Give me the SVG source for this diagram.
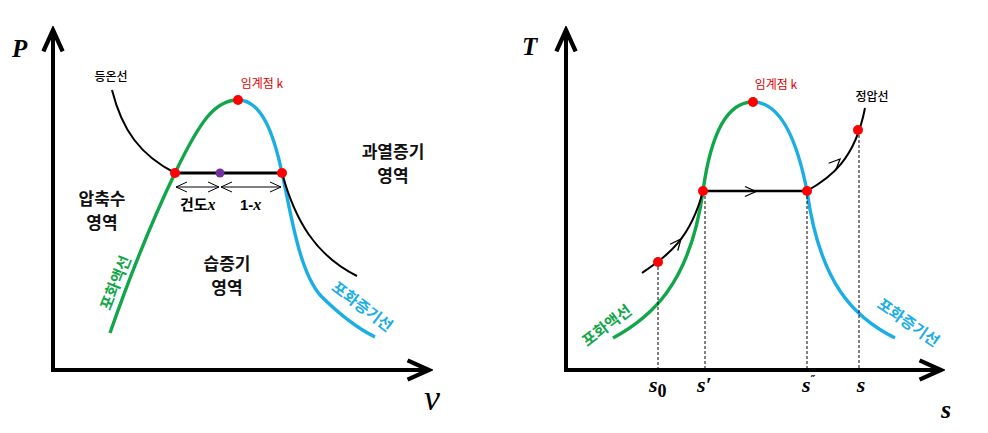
<svg xmlns="http://www.w3.org/2000/svg" width="988" height="433" viewBox="0 0 988 433">
<defs>
<style>
.axis{fill:none;stroke:#000;stroke-width:4;stroke-linejoin:miter}
.sat-liq{fill:none;stroke:#12a64b;stroke-width:3.4;stroke-linecap:butt}
.sat-vap{fill:none;stroke:#1aaee5;stroke-width:3.4}
.iso{fill:none;stroke:#000;stroke-width:2}
.thin{fill:none;stroke:#000;stroke-width:1}
.dash{fill:none;stroke:#000;stroke-width:1;stroke-dasharray:3 2}
.chev{fill:none;stroke:#000;stroke-width:1.3}
.dot{fill:#f00}
.kr{font-family:"Noto Sans CJK KR","Noto Sans",sans-serif}
.reg{font-size:17px;font-weight:700;text-anchor:middle;fill:#111}
.small{font-size:12px;text-anchor:middle}
.red{fill:#e00000}
.g{fill:#12a64b;font-size:15.5px;font-weight:700;text-anchor:middle}
.b{fill:#1aaee5;font-size:15.5px;font-weight:700;text-anchor:middle}
.math{font-family:"Liberation Serif","DejaVu Serif",serif;font-style:italic;font-weight:700}
</style>
<marker id="ah" markerUnits="userSpaceOnUse" markerWidth="30" markerHeight="30" viewBox="-24 -12 28 24" refX="0" refY="0" orient="auto-start-reverse">
<path d="M-20,-9 L0,0 L-20,9" fill="none" stroke="#000" stroke-width="4"/>
</marker>
<marker id="sh" markerUnits="userSpaceOnUse" markerWidth="16" markerHeight="14" viewBox="-13 -7 15 14" refX="0" refY="0" orient="auto-start-reverse">
<path d="M-11,-5 L0,0 L-11,5" fill="none" stroke="#000" stroke-width="1"/>
</marker>
</defs>
<rect width="988" height="433" fill="#fff"/>

<!-- ===== Left: P-v diagram ===== -->
<g id="pv-axes">
<path class="axis" d="M53,30 L53,370 L429,370" marker-start="url(#ah)" marker-end="url(#ah)"/>
<text x="12" y="57" font-family="'Liberation Serif',serif" font-style="italic" font-weight="700" font-size="25">P</text>
<text x="432" y="410" font-family="'Liberation Serif',serif" font-style="italic" font-size="36" text-anchor="middle">v</text>
</g>

<g id="pv-connectors">
<path id="pv-sat-liquid" class="sat-liq" d="M110,333 C125,290 150,225 175,173 C200,121 215,100 238,100"/>
<path id="pv-sat-vapor" class="sat-vap" d="M238,100 C262,100 274,135 282,173 C291,213 299,272 321,296 C341,316 357,328 375,337"/>
<path id="pv-isotherm-left" class="iso" d="M112,90 C122,130 140,155 175,173"/>
<line id="pv-isotherm-mid" x1="175" y1="173" x2="282" y2="173" stroke="#000" stroke-width="3"/>
<path id="pv-isotherm-right" class="iso" d="M282,173 C295,220 315,255 357,276"/>
<line id="pv-quality-x" class="thin" x1="176" y1="187" x2="219" y2="187" marker-start="url(#sh)" marker-end="url(#sh)"/>
<line id="pv-quality-1x" class="thin" x1="221" y1="187" x2="281" y2="187" marker-start="url(#sh)" marker-end="url(#sh)"/>
</g>

<g id="pv-critical">
<circle class="dot" cx="238" cy="100" r="5"/>
<text class="kr small red" x="262" y="88" font-size="13">임계점 k</text>
</g>
<g id="pv-sat-liq-point"><circle class="dot" cx="175" cy="173" r="5"/></g>
<g id="pv-sat-vap-point"><circle class="dot" cx="282" cy="173" r="5"/></g>
<g id="pv-wet-point"><circle cx="220" cy="173" r="4.5" fill="#7030a0"/></g>

<g id="pv-isotherm-label"><text class="kr small" x="111" y="81" font-weight="500">등온선</text></g>
<g id="pv-superheated"><text class="kr reg" x="393" y="158">과열증기</text><text class="kr reg" x="393" y="182">영역</text></g>
<g id="pv-compressed"><text class="kr reg" x="102" y="205">압축수</text><text class="kr reg" x="102" y="229">영역</text></g>
<g id="pv-wet"><text class="kr reg" x="227" y="270">습증기</text><text class="kr reg" x="227" y="294">영역</text></g>
<g id="pv-quality-labels">
<text x="180" y="210" class="kr" font-size="15" font-weight="700">건도<tspan class="math" font-size="16">x</tspan></text>
<text x="240" y="210" font-size="15" font-weight="700" font-family="'Liberation Sans',sans-serif">1-<tspan class="math" font-size="16">x</tspan></text>
</g>
<g id="pv-sat-liq-label"><text class="kr g" transform="translate(116,283) rotate(-68)" dy="5">포화액선</text></g>
<g id="pv-sat-vap-label"><text class="kr b" transform="translate(362,307) rotate(37)" dy="5">포화증기선</text></g>

<!-- ===== Right: T-s diagram ===== -->
<g id="ts-axes">
<path class="axis" d="M566,30 L566,370 L941,370" marker-start="url(#ah)" marker-end="url(#ah)"/>
<text x="522" y="55" font-family="'Liberation Serif',serif" font-style="italic" font-weight="700" font-size="25">T</text>
<text x="946" y="418" class="math" font-size="26" text-anchor="middle">s</text>
</g>

<g id="ts-connectors">
<path id="ts-sat-liquid" class="sat-liq" d="M613,338 C650,318 690,285 703,191 C710,140 725,102 753,102"/>
<path id="ts-sat-vapor" class="sat-vap" d="M753,102 C781,102 797,140 807,191 C820,285 855,318 895,338"/>
<path id="ts-const-p-liquid" class="iso" d="M642,273 C668,255 690,240 703,191"/>
<line id="ts-const-p-mid" x1="703" y1="191" x2="807" y2="191" stroke="#000" stroke-width="2.4"/>
<path id="ts-const-p-vapor" class="iso" d="M807,191 C830,178 855,160 865,108"/>
<path class="chev" d="M-11,-5 L0,0 L-11,5" transform="translate(756,191.5)"/>
<path class="chev" d="M-11,-5 L0,0 L-11,5" transform="translate(681,239) rotate(-50)"/>
<path class="chev" d="M-11,-5 L0,0 L-11,5" transform="translate(840,159) rotate(-45)"/>
<line class="dash" x1="658" y1="262" x2="658" y2="370"/>
<line class="dash" x1="705" y1="191" x2="705" y2="370"/>
<line class="dash" x1="807" y1="191" x2="807" y2="370"/>
<line class="dash" x1="859" y1="130" x2="859" y2="370"/>
</g>

<g id="ts-critical">
<circle class="dot" cx="753" cy="102" r="5"/>
<text class="kr small red" x="776" y="89" font-size="13">임계점 k</text>
</g>
<g id="ts-s0-point"><circle class="dot" cx="658" cy="262" r="5"/></g>
<g id="ts-s1-point"><circle class="dot" cx="703" cy="191" r="5"/></g>
<g id="ts-s2-point"><circle class="dot" cx="807" cy="191" r="5"/></g>
<g id="ts-s-point"><circle class="dot" cx="858" cy="130" r="5"/></g>

<g id="ts-const-p-label"><text class="kr small" x="872" y="101" font-weight="500">정압선</text></g>
<g id="ts-s-labels">
<text x="649" y="392" class="math" font-size="22">s<tspan font-style="normal" font-size="18" dy="5">0</tspan></text>
<text x="697" y="392" class="math" font-size="22">s′</text>
<text x="802" y="392" class="math" font-size="22">s<tspan font-size="11" dy="-9" font-style="normal" font-family="'DejaVu Sans',sans-serif">″</tspan></text>
<text x="861" y="392" class="math" font-size="22" text-anchor="middle">s</text>
</g>
<g id="ts-sat-liq-label"><text class="kr g" transform="translate(607,326) rotate(-37)" dy="5">포화액선</text></g>
<g id="ts-sat-vap-label"><text class="kr b" transform="translate(908,323) rotate(35)" dy="5">포화증기선</text></g>
</svg>
